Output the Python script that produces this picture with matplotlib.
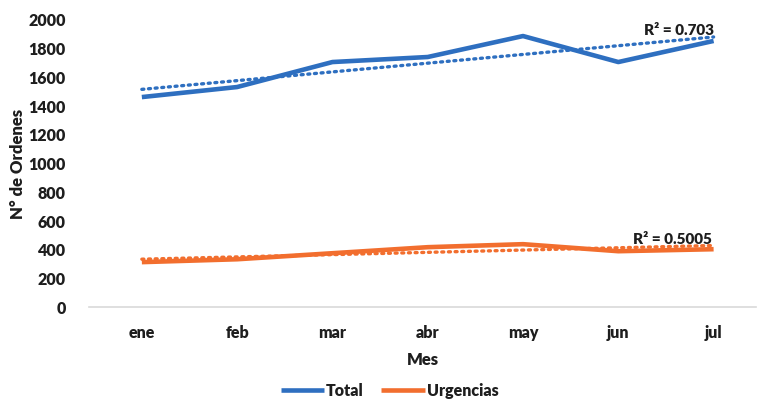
import numpy as np
import matplotlib
matplotlib.use("Agg")
import matplotlib.pyplot as plt

plt.rcParams['font.family'] = ['Lato', 'DejaVu Sans']

meses = ['ene', 'feb', 'mar', 'abr', 'may', 'jun', 'jul']
total = [1463, 1533, 1707, 1742, 1888, 1707, 1854]
urgencias = [314, 334, 376, 418, 439, 390, 404]
r2_total = 'R² = 0.703'
r2_urg = 'R² = 0.5005'

blue = '#2E6FC0'
orange = '#F26E2E'
ink = '#1e1e1e'
wt = 'heavy'

fig = plt.figure(figsize=(7.58, 3.99), dpi=100)
ax = fig.add_axes([0.118, 0.23, 0.88, 0.72])

x = np.arange(len(meses))

# tendencias lineales
for serie, col in [(total, blue), (urgencias, orange)]:
    m, b = np.polyfit(x, serie, 1)
    ax.plot(x, m * x + b, color=col, lw=2.4, ls=(0, (0.6, 1.4)),
            dash_capstyle='round')

ax.plot(x, total, color=blue, lw=3.3, label='Total', solid_capstyle='butt')
ax.plot(x, urgencias, color=orange, lw=3.3, label='Urgencias', solid_capstyle='butt')

ax.text(6.0, 1880, r2_total, ha='right', va='bottom', fontsize=11,
        fontweight=wt, color=ink)
ax.text(5.98, 425, r2_urg, ha='right', va='bottom', fontsize=11,
        fontweight=wt, color=ink)

ax.set_xlim(-0.55, 6.45)
ax.set_ylim(0, 2000)
ax.set_yticks(range(0, 2001, 200))
ax.set_xticks(x)
ax.set_xticklabels(meses)
for s in ['top', 'right', 'left']:
    ax.spines[s].set_visible(False)
ax.spines['bottom'].set_color('#d9d9d9')
ax.spines['bottom'].set_linewidth(1.2)
ax.tick_params(length=0, labelsize=11.5, colors=ink)
ax.tick_params(axis='x', pad=13)
ax.tick_params(axis='y', pad=17)
for lab in ax.get_xticklabels() + ax.get_yticklabels():
    lab.set_fontweight(wt)

ax.set_xlabel('Mes', fontsize=12, fontweight=wt, color=ink, labelpad=8)
ax.set_ylabel('N° de Ordenes', fontsize=12, fontweight=wt, color=ink, labelpad=2)

leg = fig.legend(loc='lower center', bbox_to_anchor=(0.514, -0.035), ncol=2,
                 frameon=False, fontsize=11.5, handlelength=2.7,
                 handletextpad=0.15, columnspacing=1.1)
for t in leg.get_texts():
    t.set_fontweight(wt)
    t.set_color(ink)

fig.savefig('out.png', dpi=100)
